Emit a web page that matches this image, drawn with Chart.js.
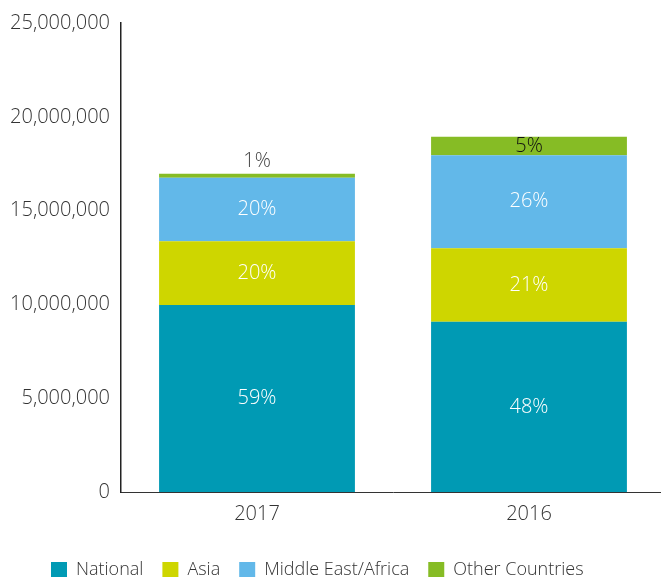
<!DOCTYPE html>
<html>
<head>
<meta charset="utf-8">
<script src="https://cdn.jsdelivr.net/npm/chart.js@4.4.1/dist/chart.umd.min.js"></script>
<style>
  html, body { margin: 0; padding: 0; background: #fff; overflow: hidden; }
  #wrap { width: 665px; height: 589px; }
</style>
</head>
<body>
<div id="wrap"><canvas id="barChart"></canvas></div>
<script>
  const years = ['2017', '2016'];
  const national = [9970000, 9070000];
  const asia = [3390000, 3920000];
  const middleEastAfrica = [3390000, 4960000];
  const otherCountries = [210000, 980000];
  const yMax = 25000000;
  const yStep = 5000000;

  // percentage of each segment within its stacked bar
  const shareLabels = {
    id: 'shareLabels',
    afterLayout(chart) {
      // legend row starts a bit in from the left edge
      chart.legend.left = 32;
    },
    afterDatasetsDraw(chart) {
      const ctx = chart.ctx;
      const sets = chart.data.datasets;
      ctx.save();
      ctx.font = '300 20px "Open Sans"';
      ctx.textAlign = 'center';
      ctx.textBaseline = 'middle';
      sets.forEach((ds, i) => {
        chart.getDatasetMeta(i).data.forEach((bar, j) => {
          const total = sets.reduce((s, d) => s + d.data[j], 0);
          const pct = Math.round(ds.data[j] / total * 100) + '%';
          const h = bar.base - bar.y;
          if (h < 14) {
            ctx.fillStyle = '#444';
            ctx.fillText(pct, bar.x, bar.y - 13);
          } else {
            ctx.fillStyle = ds.labelColor;
            ctx.fillText(pct, bar.x, bar.y + h / 2);
          }
        });
      });
      ctx.restore();
    }
  };

  const ctx = document.getElementById('barChart').getContext('2d');
  new Chart(ctx, {
    type: 'bar',
    data: {
      labels: years,
      datasets: [
        { label: 'National', data: national, backgroundColor: '#009AB4', labelColor: '#fff' },
        { label: 'Asia', data: asia, backgroundColor: '#CED600', labelColor: '#fff' },
        { label: 'Middle East/Africa', data: middleEastAfrica, backgroundColor: '#62B8E9', labelColor: '#fff' },
        { label: 'Other Countries', data: otherCountries, backgroundColor: '#86BC25', labelColor: '#111' }
      ]
    },
    options: {
      responsive: true,
      maintainAspectRatio: false,
      animation: false,
      barPercentage: 0.72,
      categoryPercentage: 1,
      layout: { padding: { left: 0, top: 18, right: 0, bottom: 0 } },
      plugins: {
        tooltip: { enabled: false },
        legend: {
          position: 'bottom',
          align: 'start',
          labels: {
            boxWidth: 16,
            boxHeight: 16,
            padding: 19,
            color: '#333',
            font: { family: 'Open Sans', size: 18, weight: 300 }
          }
        }
      },
      scales: {
        x: {
          stacked: true,
          grid: { display: false, drawTicks: false },
          border: { color: '#333', width: 1 },
          ticks: { color: '#333', padding: 10, font: { family: 'Open Sans', size: 20, weight: 300 } },
          afterFit(scale) { scale.height = 50; }
        },
        y: {
          stacked: true,
          min: 0,
          max: yMax,
          grid: { display: false, drawTicks: false },
          border: { color: '#222', width: 1.5 },
          ticks: {
            stepSize: yStep,
            color: '#333',
            padding: 11,
            font: { family: 'Open Sans', size: 20, weight: 300 },
            callback: v => v.toLocaleString('en-US')
          },
          afterFit(scale) { scale.width = 121; }
        }
      }
    },
    plugins: [shareLabels]
  });
</script>
</body>
</html>
